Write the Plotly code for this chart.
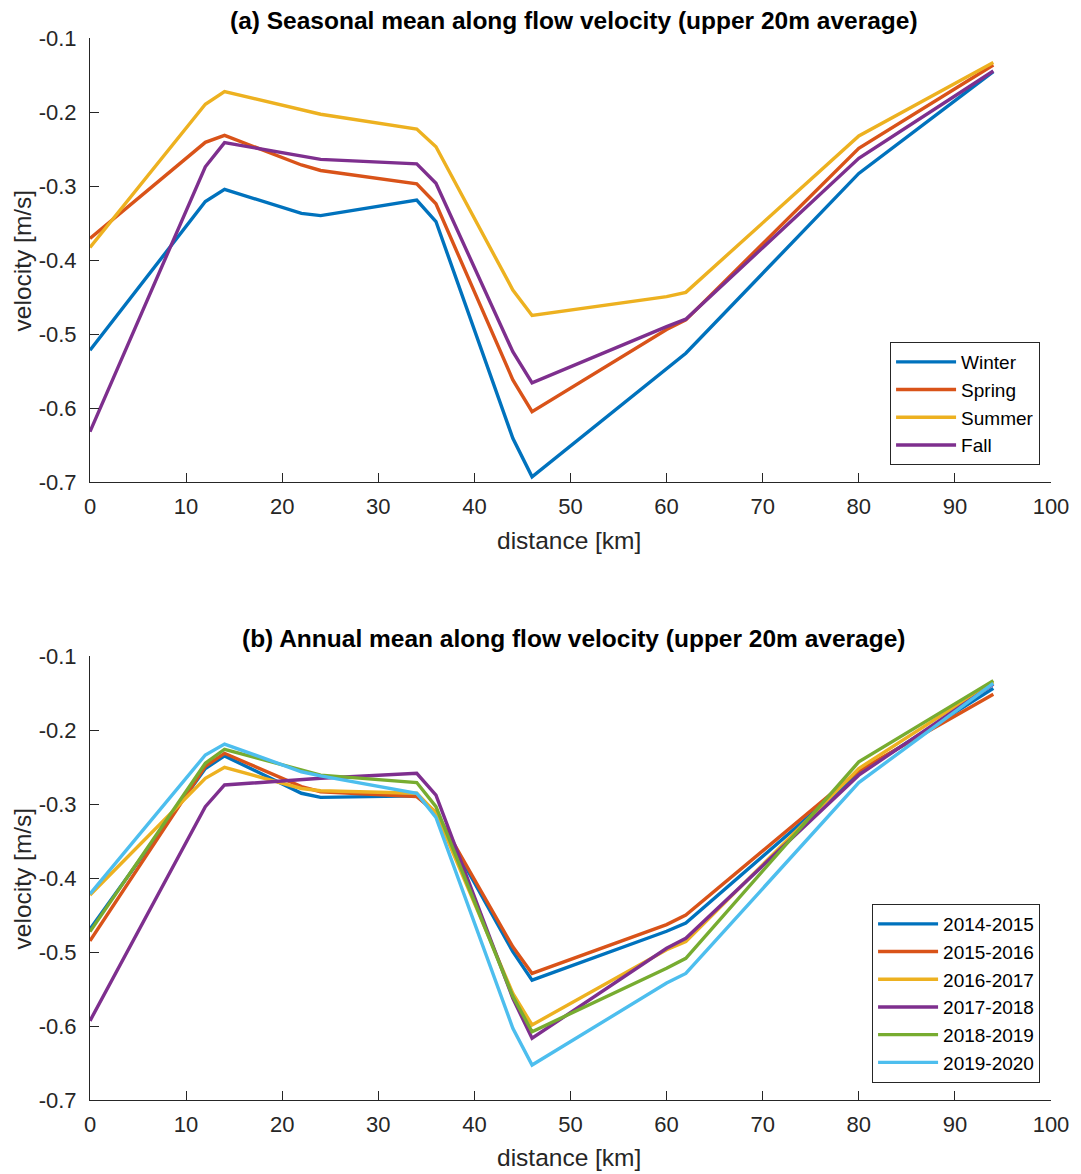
import plotly.graph_objects as go

distance = [0, 12, 14, 22, 24, 34, 36, 44, 46, 60, 62, 80, 94]

winter = [-0.522, -0.321, -0.3045, -0.337, -0.340, -0.319, -0.348, -0.641, -0.693, -0.546, -0.526, -0.283, -0.1455]
spring = [-0.371, -0.241, -0.2315, -0.2716, -0.279, -0.297, -0.324, -0.562, -0.605, -0.494, -0.481, -0.249, -0.1365]
summer = [-0.383, -0.1896, -0.1725, -0.197, -0.203, -0.223, -0.247, -0.4405, -0.475, -0.4496, -0.4437, -0.2324, -0.133]
fall = [-0.632, -0.274, -0.2414, -0.260, -0.264, -0.270, -0.2964, -0.524, -0.566, -0.490, -0.480, -0.2626, -0.1446]

y2014 = [-0.469, -0.252, -0.235, -0.2855, -0.291, -0.289, -0.313, -0.4996, -0.538, -0.472, -0.461, -0.258, -0.1437]
y2015 = [-0.485, -0.249, -0.2315, -0.2766, -0.2834, -0.290, -0.311, -0.493, -0.529, -0.463, -0.450, -0.255, -0.1518]
y2016 = [-0.423, -0.2653, -0.2504, -0.279, -0.282, -0.2855, -0.312, -0.556, -0.5986, -0.497, -0.486, -0.252, -0.135]
y2017 = [-0.593, -0.3036, -0.2743, -0.2676, -0.2653, -0.2585, -0.288, -0.5626, -0.6166, -0.495, -0.4815, -0.261, -0.138]
y2018 = [-0.4725, -0.245, -0.226, -0.254, -0.261, -0.271, -0.3035, -0.560, -0.6077, -0.522, -0.5085, -0.243, -0.1333]
y2019 = [-0.4216, -0.2338, -0.219, -0.2564, -0.262, -0.2855, -0.318, -0.603, -0.6527, -0.542, -0.529, -0.271, -0.137]

season_names = ["Winter", "Spring", "Summer", "Fall"]
year_names = ["2014-2015", "2015-2016", "2016-2017", "2017-2018", "2018-2019", "2019-2020"]

x_ticks = [0, 10, 20, 30, 40, 50, 60, 70, 80, 90, 100]
y_ticks = [-0.7, -0.6, -0.5, -0.4, -0.3, -0.2, -0.1]
y_tick_text = ["-0.7", "-0.6", "-0.5", "-0.4", "-0.3", "-0.2", "-0.1"]

colors = ["#0072BD", "#D95319", "#EDB120", "#7E2F8E", "#77AC30", "#4DBEEE"]

FONT = "Liberation Sans, Arial, Helvetica, sans-serif"
AXC = "#262626"

fig = go.Figure()
for name, vals, c in zip(season_names, [winter, spring, summer, fall], colors):
    fig.add_trace(go.Scatter(x=distance, y=vals, mode="lines", name=name,
                             line=dict(color=c, width=3.4), xaxis="x", yaxis="y",
                             legend="legend"))
for name, vals, c in zip(year_names, [y2014, y2015, y2016, y2017, y2018, y2019], colors):
    fig.add_trace(go.Scatter(x=distance, y=vals, mode="lines", name=name,
                             line=dict(color=c, width=3.4), xaxis="x2", yaxis="y2",
                             legend="legend2"))

H = 1174
top, bottom = 38, 74
ph = H - top - bottom  # 1062
dom_top = [(1100 - 482) / ph, 1.0]
dom_bot = [0.0, (1100 - 656) / ph]

TICKFONT = dict(family=FONT, size=22, color="#262626")

def xax(anchor):
    return dict(range=[0, 100], tickvals=x_ticks, ticks="inside", ticklen=9, tickwidth=1,
                tickcolor=AXC, showline=True, linecolor=AXC, linewidth=1, showgrid=False,
                zeroline=False, mirror=False, anchor=anchor, ticklabelstandoff=5,
                tickfont=TICKFONT, domain=[0, 1])

def yax(anchor, dom):
    return dict(range=[-0.7, -0.1], tickvals=y_ticks, ticktext=y_tick_text, ticks="inside",
                ticklen=9, tickwidth=1, tickcolor=AXC, showline=True, linecolor=AXC,
                linewidth=1, showgrid=False, zeroline=False, mirror=False, anchor=anchor,
                ticklabelstandoff=8, tickfont=TICKFONT, domain=dom)

def py(pix):
    return (1100 - pix) / ph

def px(pix):
    return (pix - 90) / 967

legend_common = dict(bgcolor="white", bordercolor=AXC, borderwidth=1,
                     font=dict(family=FONT, size=19, color="black"),
                     xanchor="right", yanchor="bottom", itemwidth=60,
                     tracegroupgap=0)

fig.update_layout(
    width=1081, height=H,
    margin=dict(l=90, r=24, t=top, b=bottom),
    paper_bgcolor="white", plot_bgcolor="white",
    xaxis=xax("y"), yaxis=yax("x", dom_top),
    xaxis2=xax("y2"), yaxis2=yax("x2", dom_bot),
    legend=dict(x=px(1046), y=py(465), **legend_common),
    legend2=dict(x=px(1046), y=py(1083), **legend_common),
    showlegend=True,
    font=dict(family=FONT, color="#262626"),
)

annotations = [
    dict(text="<b>(a) Seasonal mean along flow velocity (upper 20m average)</b>", x=px(577), y=py(20),
         font=dict(size=24.5, color="black")),
    dict(text="<b>(b) Annual mean along flow velocity (upper 20m average)</b>", x=px(577), y=py(638),
         font=dict(size=24.5, color="black")),
    dict(text="distance [km]", x=px(572), y=py(540), font=dict(size=24.5, color="#262626")),
    dict(text="distance [km]", x=px(572), y=py(1157), font=dict(size=24.5, color="#262626")),
    dict(text="velocity [m/s]", x=px(22), y=py(260), textangle=-90, font=dict(size=24.5, color="#262626")),
    dict(text="velocity [m/s]", x=px(22), y=py(878), textangle=-90, font=dict(size=24.5, color="#262626")),
]
for a in annotations:
    a.update(xref="paper", yref="paper", xanchor="center", yanchor="middle", showarrow=False)
    a["font"]["family"] = FONT
fig.update_layout(annotations=annotations)

fig.write_html("out.html")
